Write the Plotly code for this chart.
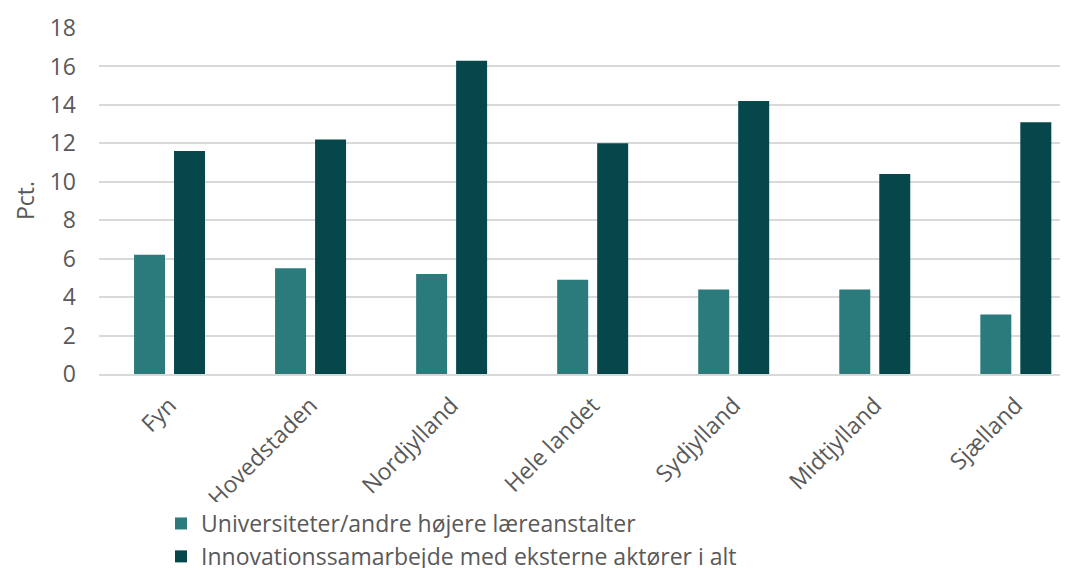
import plotly.graph_objects as go

categories = ["Fyn", "Hovedstaden", "Nordjylland", "Hele landet", "Sydjylland", "Midtjylland", "Sjælland"]
universiteter = [6.2, 5.5, 5.2, 4.9, 4.4, 4.4, 3.1]
innovation = [11.6, 12.2, 16.3, 12.0, 14.2, 10.4, 13.1]
series_names = ["Universiteter/andre højere læreanstalter",
                "Innovationssamarbejde med eksterne aktører i alt"]
y_ticks = [0, 2, 4, 6, 8, 10, 12, 14, 16, 18]
y_title = "Pct."

fig = go.Figure()
fig.add_trace(go.Bar(x=categories, y=universiteter, name=series_names[0],
                     marker=dict(color="#2B7A7C", line=dict(width=0))))
fig.add_trace(go.Bar(x=categories, y=innovation, name=series_names[1],
                     marker=dict(color="#05474A", line=dict(width=0))))

font_family = "Open Sans, sans-serif"
fs = 23
plot_w = 969
fig.update_layout(
    width=1060, height=560,
    margin=dict(l=91, r=0, t=20, b=194, autoexpand=False),
    paper_bgcolor="white", plot_bgcolor="white",
    barmode="group", bargap=0.433, bargroupgap=0.225,
    font=dict(family=font_family, size=fs, color="#595959"),
    showlegend=True,
    legend=dict(orientation="v", x=0.064, y=-0.37, xanchor="left", yanchor="top",
                font=dict(size=fs, color="#595959"), itemsizing="constant",
                tracegroupgap=0, traceorder="normal"),
    xaxis=dict(tickangle=-45, showgrid=False, showline=True, linecolor="#D9D9D9",
               linewidth=1.5, ticks="", automargin=False, range=[-0.5, 6.37],
               ticklabelstandoff=7,
               tickfont=dict(size=fs, color="#595959")),
    yaxis=dict(range=[0, 18], tickvals=y_ticks, showgrid=True, gridcolor="#D9D9D9",
               gridwidth=1.5, zeroline=False, ticks="", showline=False, automargin=False,
               ticklabelstandoff=22,
               tickfont=dict(size=fs, color="#595959")),
    annotations=[dict(text=y_title, textangle=-90, xref="paper", yref="paper",
                      x=(17 - 91) / plot_w, y=0.5, xanchor="center", yanchor="middle",
                      showarrow=False, font=dict(size=fs, color="#595959"))],
)

fig.write_html("out.html")
